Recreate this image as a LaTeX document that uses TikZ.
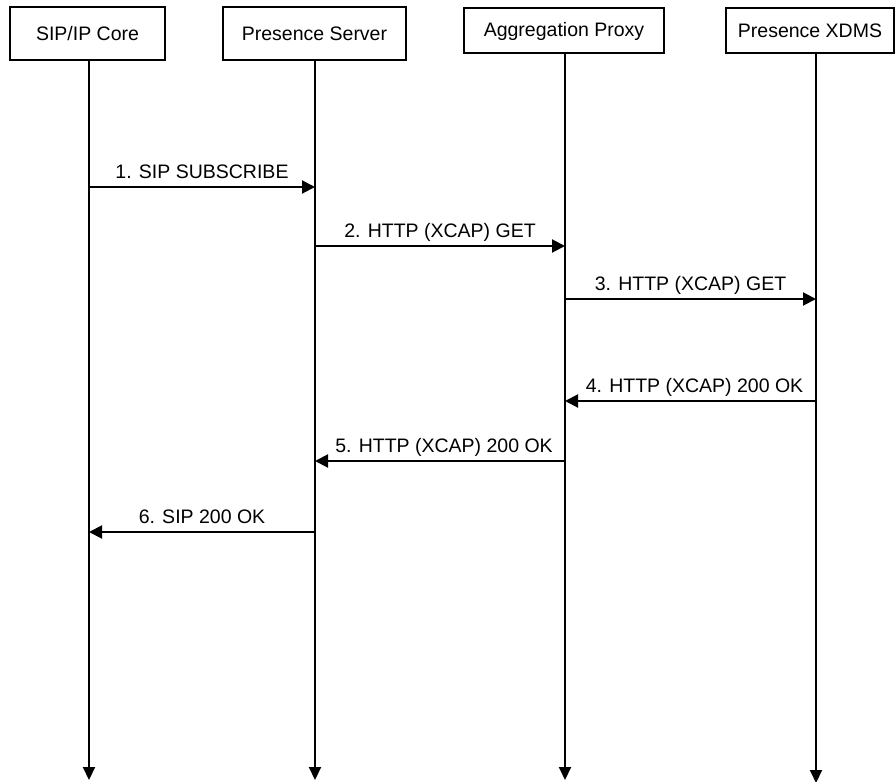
\documentclass[tikz,border=0pt]{standalone}
\usepackage{fontspec}
\setmainfont{Liberation Sans}
\usetikzlibrary{arrows.meta}
\begin{document}
\begin{tikzpicture}[x=1pt,y=-1pt,
  every node/.style={font=\fontsize{19.5}{23}\selectfont},
  actor/.style={draw,line width=2pt,rectangle,inner sep=0pt},
  life/.style={line width=2pt,-{Triangle[length=13pt,width=12pt]}},
  msg/.style={line width=2pt,-{Triangle[length=13pt,width=13pt]}},
  lbl/.style={midway,anchor=base,yshift=9pt,inner sep=0pt}]
\useasboundingbox (0,0) rectangle (896,781);
% actors
\node[actor,minimum width=155pt,minimum height=53pt] (a1) at (87.5,33.5) {SIP/IP Core};
\node[actor,minimum width=183pt,minimum height=53pt] (a2) at (314.5,33.5) {Presence Server};
\node[actor,minimum width=200pt,minimum height=45pt] (a3) at (564,31) {Aggregation Proxy};
\node[actor,minimum width=168pt,minimum height=45pt] (a4) at (810,31) {Presence XDMS};
% lifeline coordinates
\coordinate (e1) at (89,780);
\coordinate (e2) at (315,780);
\coordinate (e3) at (565,780);
\coordinate (e4) at (816,783);
\draw[life] (a1.south -| e1) -- (e1);
\draw[life] (a2.south -| e2) -- (e2);
\draw[life] (a3.south -| e3) -- (e3);
\draw[life] (a4.south -| e4) -- (e4);
% message endpoints
\coordinate (m1s) at (89,187);  \coordinate (m1e) at (315,187);
\coordinate (m2s) at (315,246); \coordinate (m2e) at (565,246);
\coordinate (m3s) at (565,299); \coordinate (m3e) at (816,299);
\coordinate (m4s) at (816,401); \coordinate (m4e) at (565,401);
\coordinate (m5s) at (565,461); \coordinate (m5e) at (315,461);
\coordinate (m6s) at (315,532); \coordinate (m6e) at (89,532);
\draw[msg] (m1s) -- (m1e) node[lbl] (t1) {1. SIP SUBSCRIBE};
\draw[msg] (m2s) -- (m2e) node[lbl] (t2) {2. HTTP (XCAP) GET};
\draw[msg] (m3s) -- (m3e) node[lbl] (t3) {3. HTTP (XCAP) GET};
\draw[msg] (m4s) -- (m4e) node[lbl,xshift=4pt] (t4) {4. HTTP (XCAP) 200 OK};
\draw[msg] (m5s) -- (m5e) node[lbl,xshift=4pt] (t5) {5. HTTP (XCAP) 200 OK};
\draw[msg] (m6s) -- (m6e) node[lbl] (t6) {6. SIP 200 OK};
\end{tikzpicture}
\end{document}
